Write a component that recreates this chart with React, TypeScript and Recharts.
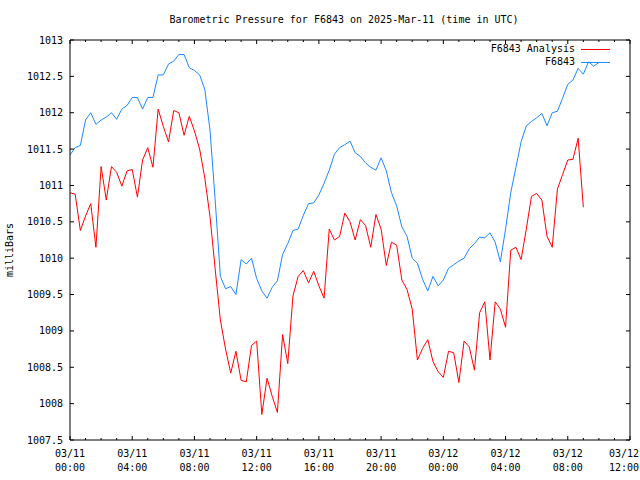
import React from 'react';
import { LineChart, Line, XAxis, YAxis, Legend } from 'recharts';

const FONT = '"DejaVu Sans Mono", "Liberation Mono", monospace';

const chartTitle = 'Barometric Pressure for F6843 on 2025-Mar-11 (time in UTC)';
const yAxisTitle = 'milliBars';
const analysisName = 'F6843 Analysis';
const observedName = 'F6843';
const analysisColor = '#ff0000';
const observedColor = '#1e88ff';
const legendOrder = [analysisName, observedName];
const legendColors: Record<string, string> = { [analysisName]: analysisColor, [observedName]: observedColor };

// sample spacing in minutes from 03/11 00:00 UTC
const stepMinutes = 20;

const analysisValues = [
  1010.90, 1010.88, 1010.38, 1010.58, 1010.75, 1010.15, 1011.26, 1010.80, 1011.26, 1011.18,
  1010.99, 1011.20, 1011.22, 1010.84, 1011.35, 1011.52, 1011.25, 1012.05, 1011.81, 1011.60,
  1012.03, 1012.00, 1011.69, 1011.95, 1011.75, 1011.50, 1011.10, 1010.57, 1009.85, 1009.15,
  1008.75, 1008.42, 1008.72, 1008.32, 1008.30, 1008.80, 1008.86, 1007.85, 1008.35, 1008.10,
  1007.88, 1008.95, 1008.55, 1009.48, 1009.75, 1009.83, 1009.66, 1009.82, 1009.62, 1009.45,
  1010.40, 1010.25, 1010.30, 1010.62, 1010.50, 1010.25, 1010.53, 1010.45, 1010.15, 1010.60,
  1010.40, 1009.90, 1010.22, 1010.18, 1009.70, 1009.57, 1009.30, 1008.60, 1008.76, 1008.88,
  1008.58, 1008.44, 1008.36, 1008.72, 1008.70, 1008.29, 1008.86, 1008.78, 1008.46, 1009.25,
  1009.40, 1008.60, 1009.40, 1009.30, 1009.05, 1010.11, 1010.15, 1009.98, 1010.40, 1010.85,
  1010.89, 1010.80, 1010.30, 1010.15, 1010.95, 1011.15, 1011.35, 1011.36, 1011.65, 1010.70,
];

const observedValues = [
  1011.42, 1011.52, 1011.55, 1011.90, 1012.00, 1011.84, 1011.90, 1011.94, 1012.00, 1011.91,
  1012.05, 1012.10, 1012.21, 1012.21, 1012.05, 1012.21, 1012.21, 1012.52, 1012.52, 1012.67,
  1012.71, 1012.80, 1012.80, 1012.62, 1012.58, 1012.52, 1012.32, 1011.76, 1010.80, 1009.75,
  1009.58, 1009.61, 1009.50, 1009.98, 1009.92, 1010.00, 1009.72, 1009.55, 1009.45, 1009.60,
  1009.69, 1010.05, 1010.20, 1010.38, 1010.40, 1010.59, 1010.75, 1010.76, 1010.87, 1011.03,
  1011.21, 1011.43, 1011.52, 1011.56, 1011.61, 1011.45, 1011.40, 1011.31, 1011.25, 1011.21,
  1011.38, 1011.20, 1010.90, 1010.72, 1010.43, 1010.30, 1010.00, 1009.93, 1009.71, 1009.55,
  1009.75, 1009.62, 1009.70, 1009.86, 1009.91, 1009.96, 1010.00, 1010.13, 1010.20, 1010.29,
  1010.28, 1010.35, 1010.22, 1009.95, 1010.40, 1010.90, 1011.25, 1011.60, 1011.82, 1011.88,
  1011.93, 1011.99, 1011.82, 1012.00, 1012.02, 1012.20, 1012.39, 1012.45, 1012.61, 1012.53,
  1012.70, 1012.64, 1012.69,
];

const xMajorTicks = [0, 4, 8, 12, 16, 20, 24, 28, 32, 36];
const xAllTicks = [
  0, 1, 2, 3, 4, 5, 6, 7, 8, 9, 10, 11, 12, 13, 14, 15, 16, 17, 18,
  19, 20, 21, 22, 23, 24, 25, 26, 27, 28, 29, 30, 31, 32, 33, 34, 35, 36,
];
const xTickDates = ['03/11', '03/11', '03/11', '03/11', '03/11', '03/11', '03/12', '03/12', '03/12', '03/12'];
const xTickTimes = ['00:00', '04:00', '08:00', '12:00', '16:00', '20:00', '00:00', '04:00', '08:00', '12:00'];
const yTicks = [1007.5, 1008, 1008.5, 1009, 1009.5, 1010, 1010.5, 1011, 1011.5, 1012, 1012.5, 1013];

const xDomain = [0, 36];
const yDomain = [1007.5, 1013];

const data = observedValues.map((v, i) => ({
  t: (i * stepMinutes) / 60,
  analysis: analysisValues[i],
  obs: v,
}));

const MAJOR = 4;
const MINOR = 2;

const BottomTick = (props: any) => {
  const { x, y, payload } = props;
  const idx = xMajorTicks.indexOf(payload.value);
  const len = idx >= 0 ? MAJOR : MINOR;
  const cx = Math.min(x, 640 - 16);
  return (
    <g>
      <line x1={x} y1={y} x2={x} y2={y - len} stroke="#000" strokeWidth={1} />
      {idx >= 0 && (
        <text x={cx} y={y + 17} textAnchor="middle" fontSize={10} fontFamily={FONT} fill="#000">
          {xTickDates[idx]}
        </text>
      )}
      {idx >= 0 && (
        <text x={cx} y={y + 31} textAnchor="middle" fontSize={10} fontFamily={FONT} fill="#000">
          {xTickTimes[idx]}
        </text>
      )}
    </g>
  );
};

const TopTick = (props: any) => {
  const { x, y, payload } = props;
  const len = xMajorTicks.indexOf(payload.value) >= 0 ? MAJOR : MINOR;
  return <line x1={x} y1={y} x2={x} y2={y + len} stroke="#000" strokeWidth={1} />;
};

const LeftTick = (props: any) => {
  const { x, y, payload } = props;
  return (
    <g>
      <line x1={x} y1={y} x2={x + MAJOR} y2={y} stroke="#000" strokeWidth={1} />
      <text x={x - 7} y={y} dy="0.35em" textAnchor="end" fontSize={10} fontFamily={FONT} fill="#000">
        {String(payload.value)}
      </text>
    </g>
  );
};

const RightTick = (props: any) => {
  const { x, y } = props;
  return <line x1={x} y1={y} x2={x - MAJOR} y2={y} stroke="#000" strokeWidth={1} />;
};

const LegendContent = (props: any) => {
  const payload = [...(props.payload || [])].sort(
    (a: any, b: any) => legendOrder.indexOf(a.value) - legendOrder.indexOf(b.value)
  );
  return (
    <div style={{ position: 'relative', width: 640, height: 0 }}>
      {payload.map((p: any, i: number) => (
        <div key={i} style={{ position: 'absolute', top: 42 + i * 13, left: 0, width: 640, height: 14 }}>
          <span
            style={{
              position: 'absolute',
              right: 640 - 575,
              top: 0,
              lineHeight: '14px',
              fontSize: 10,
              fontFamily: FONT,
              color: '#000',
              whiteSpace: 'nowrap',
            }}
          >
            {p.value}
          </span>
          <span
            style={{
              position: 'absolute',
              left: 581,
              width: 29,
              top: 7,
              height: 1,
              background: legendColors[p.value] || p.color,
            }}
          />
        </div>
      ))}
    </div>
  );
};

export default function App() {
  return (
    <div style={{ position: 'absolute', left: 0, top: 0, width: 640, height: 480, background: '#fff' }}>
      <div
        style={{
          position: 'absolute',
          left: 24,
          top: 13,
          width: 640,
          textAlign: 'center',
          fontSize: 10,
          lineHeight: '14px',
          fontFamily: FONT,
          color: '#000',
          whiteSpace: 'nowrap',
        }}
      >
        {chartTitle}
      </div>
      <div
        style={{
          position: 'absolute',
          left: 10,
          top: 250,
          transform: 'translate(-50%, -50%) rotate(-90deg)',
          fontSize: 10,
          lineHeight: '12px',
          fontFamily: FONT,
          color: '#000',
          whiteSpace: 'nowrap',
        }}
      >
        {yAxisTitle}
      </div>
      <LineChart width={640} height={480} data={data} margin={{ top: 39, right: 9, bottom: 0, left: 0 }}>
        <XAxis
          xAxisId="x"
          type="number"
          dataKey="t"
          domain={xDomain}
          ticks={xAllTicks}
          interval={0}
          allowDataOverflow
          orientation="bottom"
          height={40}
          tickLine={false}
          tickSize={0}
          tickMargin={0}
          axisLine={{ stroke: '#000', strokeWidth: 1 }}
          tick={<BottomTick />}
        />
        <XAxis
          xAxisId="xt"
          type="number"
          dataKey="t"
          domain={xDomain}
          ticks={xAllTicks}
          interval={0}
          allowDataOverflow
          orientation="top"
          height={1}
          tickLine={false}
          tickSize={0}
          tickMargin={0}
          axisLine={{ stroke: '#000', strokeWidth: 1 }}
          tick={<TopTick />}
        />
        <YAxis
          yAxisId="y"
          type="number"
          domain={yDomain}
          ticks={yTicks}
          interval={0}
          allowDataOverflow
          orientation="left"
          width={70}
          tickLine={false}
          tickSize={0}
          tickMargin={0}
          axisLine={{ stroke: '#000', strokeWidth: 1 }}
          tick={<LeftTick />}
        />
        <YAxis
          yAxisId="yr"
          type="number"
          domain={yDomain}
          ticks={yTicks}
          interval={0}
          allowDataOverflow
          orientation="right"
          width={1}
          tickLine={false}
          tickSize={0}
          tickMargin={0}
          axisLine={{ stroke: '#000', strokeWidth: 1 }}
          tick={<RightTick />}
        />
        <Legend
          layout="vertical"
          align="center"
          verticalAlign="middle"
          wrapperStyle={{ position: 'absolute', top: 0, left: 0, width: 640, height: 0, margin: 0, padding: 0 }}
          content={<LegendContent />}
        />
        <Line
          xAxisId="x"
          yAxisId="y"
          type="linear"
          dataKey="analysis"
          name={analysisName}
          stroke={analysisColor}
          strokeWidth={1}
          dot={false}
          isAnimationActive={false}
        />
        <Line
          xAxisId="x"
          yAxisId="y"
          type="linear"
          dataKey="obs"
          name={observedName}
          stroke={observedColor}
          strokeWidth={1}
          dot={false}
          isAnimationActive={false}
        />
      </LineChart>
    </div>
  );
}
